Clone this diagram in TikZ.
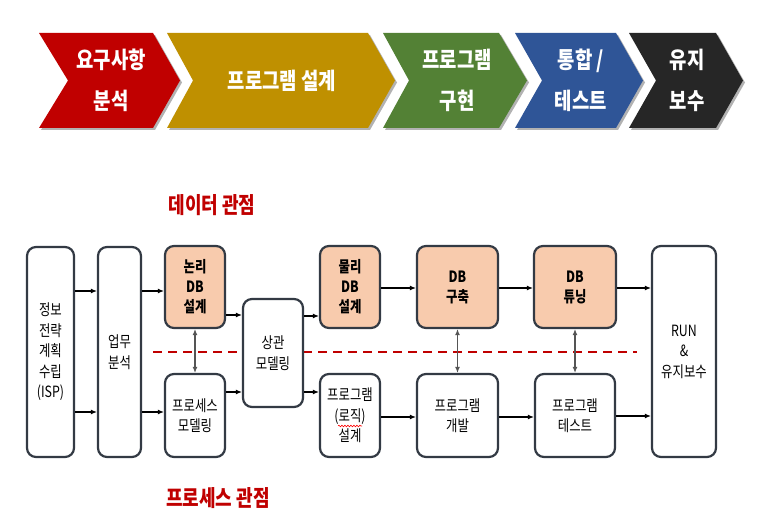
\documentclass[tikz,border=0pt]{standalone}
\usepackage{fontspec}
\newfontfamily\krbox[FakeStretch=0.8]{Noto Sans CJK KR}
\newfontfamily\krhead[FakeStretch=0.82]{Noto Sans CJK KR}
\newfontfamily\krtitle[FakeStretch=0.8]{Noto Sans CJK KR}
\usetikzlibrary{arrows.meta,shadows,decorations.pathmorphing}
\definecolor{cred}{HTML}{C00000}
\definecolor{cgold}{HTML}{BF9000}
\definecolor{cgreen}{HTML}{538135}
\definecolor{cblue}{HTML}{2F5597}
\definecolor{cblack}{HTML}{262626}
\definecolor{peach}{HTML}{F8CBAD}
\definecolor{boxline}{HTML}{333A44}
\definecolor{vgray}{HTML}{555555}
\definecolor{dashred}{HTML}{C00000}
\begin{document}
\begin{tikzpicture}[x=1pt,y=-1pt,
  chev/.style={drop shadow={shadow xshift=2pt,shadow yshift=-2pt,opacity=0.3,fill=black}},
  chevtext/.style={text=white,font=\krhead\bfseries\fontsize{23}{41}\selectfont,align=center,inner sep=0pt},
  box/.style={draw=boxline,line width=2.2pt,rounded corners=9pt,fill=white,inner sep=0pt,align=center,font=\krbox\fontsize{15.5}{20.5}\selectfont},
  dbbox/.style={box,fill=peach,font=\krbox\bfseries\fontsize{15.5}{20}\selectfont},
  arr/.style={line width=1.1pt,-{Latex[length=6pt,width=5pt]}},
  varr/.style={line width=1.1pt,draw=vgray,{Latex[length=6pt,width=5pt]}-{Latex[length=6pt,width=5pt]}},
  title/.style={text=cred,font=\krtitle\bfseries\fontsize{22.5}{26}\selectfont,inner sep=0pt}]

\useasboundingbox (0,0) rectangle (758,526);

% chevrons
\fill[cred,chev]   (39,33) -- (153,33) -- (180,80.5) -- (153,128) -- (39,128) -- (68,80.5) -- cycle;
\fill[cgold,chev]  (167,33) -- (368,33) -- (395,80.5) -- (368,128) -- (167,128) -- (193,80.5) -- cycle;
\fill[cgreen,chev] (383,33) -- (499,33) -- (527,80.5) -- (499,128) -- (383,128) -- (409,80.5) -- cycle;
\fill[cblue,chev]  (515,33) -- (616,33) -- (643,80.5) -- (616,128) -- (515,128) -- (542,80.5) -- cycle;
\fill[cblack,chev] (629,33) -- (716,33) -- (743,80.5) -- (716,128) -- (629,128) -- (656,80.5) -- cycle;

\node[chevtext] (c1) at (111,80.5) {요구사항\\분석};
\node[chevtext] (c2) at (282,80.5) {프로그램 설계};
\node[chevtext] (c3) at (457,80.5) {프로그램\\구현};
\node[chevtext] (c4) at (581,80.5) {통합 /\\테스트};
\node[chevtext] (c5) at (687,80.5) {유지\\보수};

% titles
\node[title] (t1) at (212,205) {데이터 관점};
\node[title] (t2) at (218,498) {프로세스 관점};

% dashed divider
\draw[dashred,line width=2.5pt,dash pattern=on 9pt off 6pt] (153,352) -- (637,352);

% boxes
\node[box,minimum width=47pt,minimum height=210pt] (isp) at (50.5,352) {정보\\전략\\계획\\수립\\(ISP)};
\node[box,minimum width=43pt,minimum height=210pt] (biz) at (119.5,352) {업무\\분석};
\node[dbbox,minimum width=60pt,minimum height=82pt] (ldb) at (195,287) {논리\\DB\\설계};
\node[box,minimum width=60pt,minimum height=108pt] (corr) at (273,353) {상관\\모델링};
\node[dbbox,minimum width=60pt,minimum height=82pt] (pdb) at (350,287) {물리\\DB\\설계};
\node[dbbox,minimum width=81pt,minimum height=82pt] (build) at (457.5,287) {DB\\구축};
\node[dbbox,minimum width=82pt,minimum height=82pt] (tune) at (575,287) {DB\\튜닝};
\node[box,minimum width=64pt,minimum height=211pt] (run) at (684,351.5) {RUN\\\&\\유지보수};
\node[box,minimum width=60pt,minimum height=83pt] (pmod) at (195,415.5) {프로세스\\모델링};
\node[box,minimum width=60pt,minimum height=83pt] (plog) at (350,415.5) {프로그램\\(로직)\\설계};
\node[box,minimum width=81pt,minimum height=83pt] (pdev) at (457.5,415.5) {프로그램\\개발};
\node[box,minimum width=80pt,minimum height=83pt] (ptest) at (575,415.5) {프로그램\\테스트};

% spell-check squiggle under (로직)
\draw[red,line width=0.6pt,decorate,decoration={snake,amplitude=0.8pt,segment length=3pt}] (338,426) -- (362,426);

% horizontal connectors
\draw[arr] (isp.east |- 0,291) -- (biz.west |- 0,291);
\draw[arr] (isp.east |- 0,412) -- (biz.west |- 0,412);
\draw[arr] (biz.east |- 0,291) -- (ldb.west |- 0,291);
\draw[arr] (biz.east |- 0,412) -- (pmod.west |- 0,412);
\draw[arr] (ldb.east |- 0,315) -- (corr.west |- 0,315);
\draw[arr] (pmod.east |- 0,392) -- (corr.west |- 0,392);
\draw[arr] (corr.east |- 0,316) -- (pdb.west |- 0,316);
\draw[arr] (corr.east |- 0,392) -- (plog.west |- 0,392);
\draw[arr] (pdb.east |- 0,288) -- (build.west |- 0,288);
\draw[arr] (build.east |- 0,288) -- (tune.west |- 0,288);
\draw[arr] (tune.east |- 0,288) -- (run.west |- 0,288);
\draw[arr] (plog.east |- 0,417) -- (pdev.west |- 0,417);
\draw[arr] (pdev.east |- 0,417) -- (ptest.west |- 0,417);
\draw[arr] (ptest.east |- 0,416) -- (run.west |- 0,416);

% vertical connectors
\draw[varr] (ldb.south) -- (pmod.north);
\draw[varr] (build.south) -- (pdev.north);
\draw[varr] (tune.south) -- (ptest.north);
\end{tikzpicture}
\end{document}
